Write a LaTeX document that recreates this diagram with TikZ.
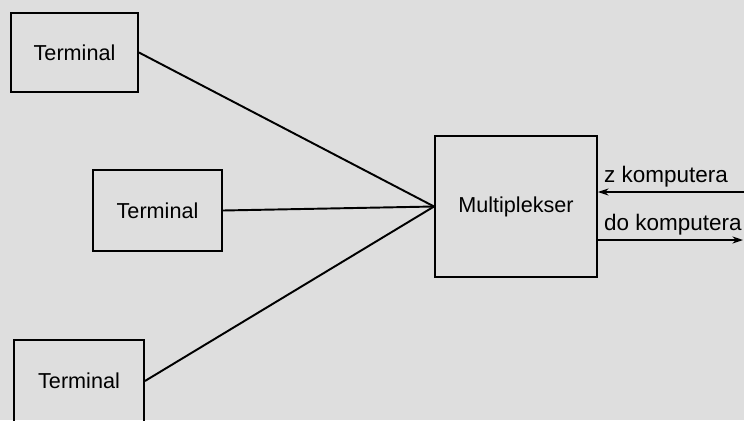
\documentclass[tikz,border=0pt]{standalone}
\usepackage{fontspec}
\setmainfont{Liberation Sans}
\usetikzlibrary{arrows.meta}

\begin{document}
\begin{tikzpicture}[x=0.02cm, y=-0.02cm,
    blok/.style={draw, line width=1.1pt, inner sep=0pt, font=\fontsize{12.3}{14}\selectfont},
    linia/.style={line width=1.1pt},
    opis/.style={font=\fontsize{12.8}{15}\selectfont, inner sep=1pt}]
    % tlo
    \fill[black!13] (0,0) rectangle (744,420);
    \useasboundingbox (0,0) rectangle (744,420);

    % bloki
    \node[blok, minimum width=2.54cm, minimum height=1.58cm] (t1) at (74.5,52.5) {Terminal};
    \node[blok, minimum width=2.58cm, minimum height=1.62cm] (t2) at (157.5,210.5) {Terminal};
    \node[blok, minimum width=2.60cm, minimum height=1.64cm] (t3) at (79,381) {Terminal};
    \node[blok, minimum width=3.24cm, minimum height=2.82cm] (mux) at (516,206.5) {Multiplekser};

    % punkty na brzegu
    \coordinate (zk) at (744,192);
    \coordinate (dk) at (743,240);

    % linie
    \draw[linia] (t1.east) -- (mux.west);
    \draw[linia] (t2.east) -- (mux.west);
    \draw[linia] (t3.east) -- (mux.west);
    \draw[linia, -{Stealth[length=6pt,width=4pt]}] (zk) -- (mux.east |- zk);
    \draw[linia, -{Stealth[length=6pt,width=4pt]}] (mux.east |- dk) -- (dk);

    % opisy
    \node[opis, anchor=south west] (zopis) at (602,189) {z komputera};
    \node[opis, anchor=south west] (doopis) at (602,237) {do komputera};
\end{tikzpicture}
\end{document}
